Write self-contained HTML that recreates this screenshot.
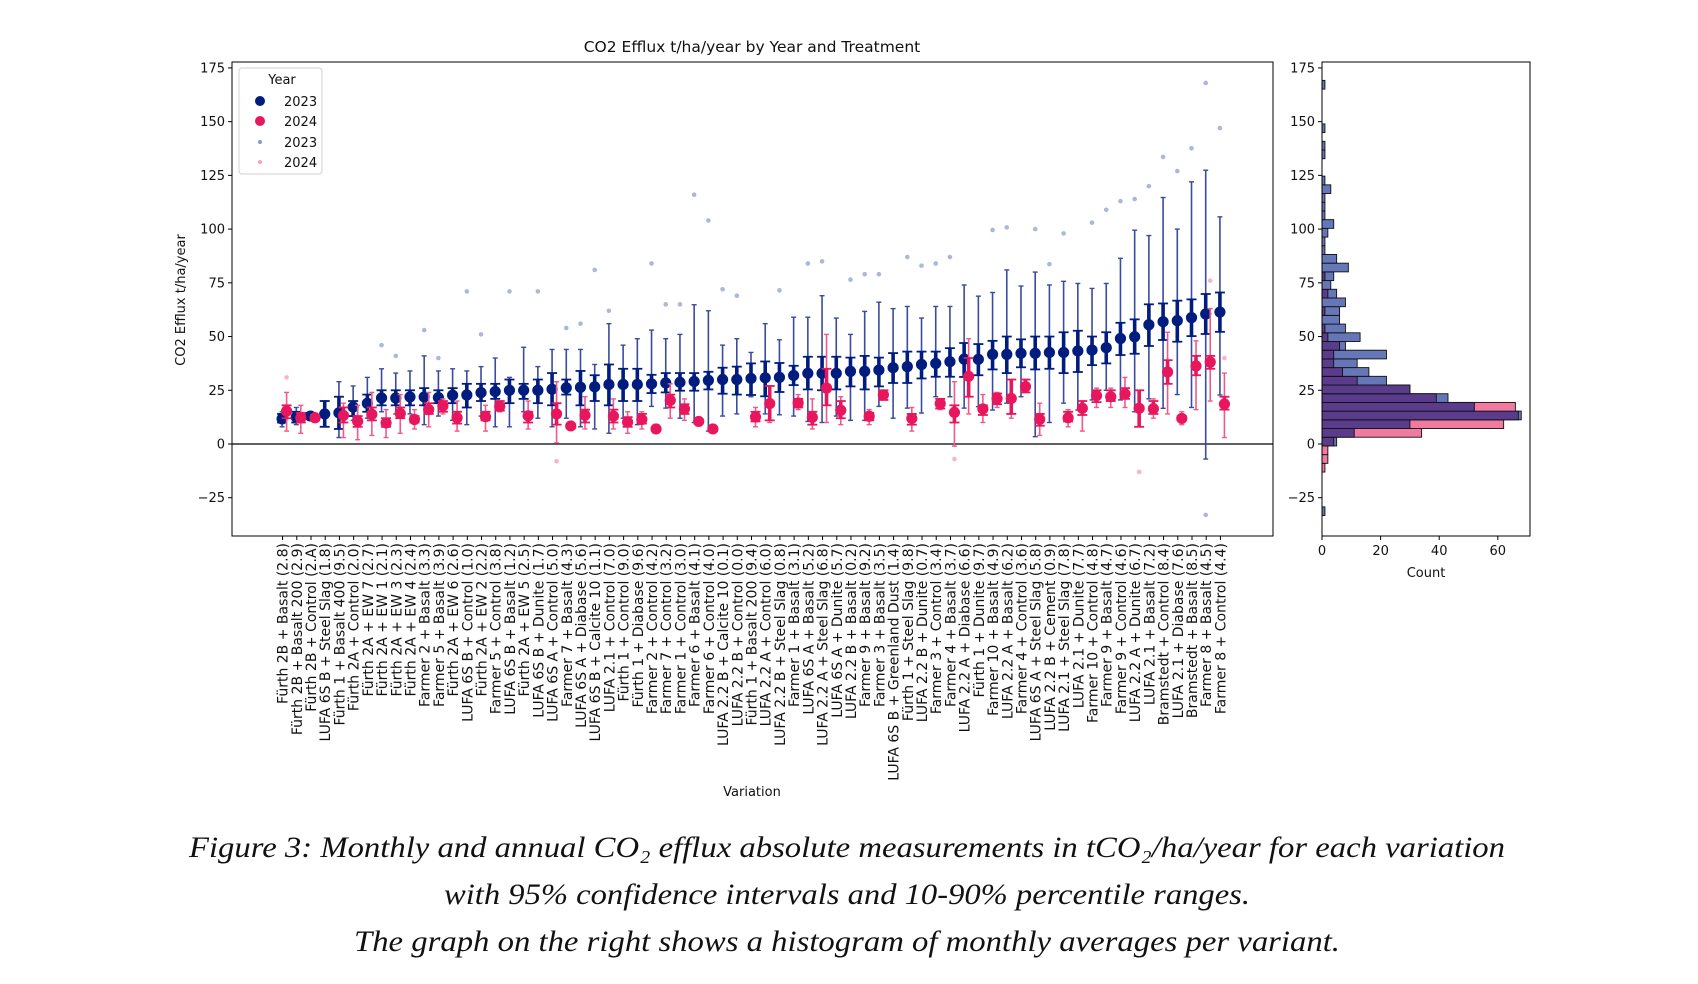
<!DOCTYPE html>
<html><head><meta charset="utf-8"><title>CO2 Efflux chart</title>
<style>
html,body{margin:0;padding:0;background:#fff;}
svg{display:block;}
.tk{font-family:"DejaVu Sans","Liberation Sans",sans-serif;font-size:13px;fill:#111;}
.cat{font-family:"DejaVu Sans","Liberation Sans",sans-serif;font-size:14px;fill:#111;}
.cap{font-family:"Liberation Serif",serif;font-style:italic;font-size:30px;fill:#111;}
</style></head>
<body>
<svg id="fig" width="1698" height="984" viewBox="0 0 1698 984" xmlns="http://www.w3.org/2000/svg">
<rect x="0" y="0" width="1698" height="984" fill="#fff"/>
<text class="tk" x="752" y="52" text-anchor="middle" style="font-size:15.5px">CO2 Efflux t/ha/year by Year and Treatment</text>
<text class="tk" transform="translate(185,300) rotate(-90)" text-anchor="middle">CO2 Efflux t/ha/year</text>
<text class="tk" x="752" y="796" text-anchor="middle">Variation</text>
<text class="tk" x="1426" y="577" text-anchor="middle">Count</text>
<g id="main"></g>
<g id="hist"></g>
<g>
<rect x="239" y="68" width="83" height="106" rx="3" fill="#fff" fill-opacity="0.85" stroke="#d0d0d0"/>
<text class="tk" x="282" y="84" text-anchor="middle">Year</text>
<circle cx="260" cy="101" r="5" fill="#001c7f"/>
<text class="tk" x="284" y="106">2023</text>
<circle cx="260" cy="121" r="5" fill="#e8175d"/>
<text class="tk" x="284" y="126">2024</text>
<circle cx="260" cy="142" r="2" fill="#8a97cc"/>
<text class="tk" x="284" y="147">2023</text>
<circle cx="260" cy="162" r="2" fill="#f5a3bd"/>
<text class="tk" x="284" y="167">2024</text>
</g>
<text class="cap" x="847" y="857" text-anchor="middle" textLength="1316" lengthAdjust="spacingAndGlyphs">Figure 3: Monthly and annual CO₂ efflux absolute measurements in tCO₂/ha/year for each variation</text>
<text class="cap" x="847" y="904" text-anchor="middle" textLength="806" lengthAdjust="spacingAndGlyphs">with 95% confidence intervals and 10-90% percentile ranges.</text>
<text class="cap" x="847" y="951" text-anchor="middle" textLength="986" lengthAdjust="spacingAndGlyphs">The graph on the right shows a histogram of monthly averages per variant.</text>
</svg>
<script>
const categories = ["Fürth 2B + Basalt (2.8)","Fürth 2B + Basalt 200 (2.9)","Fürth 2B + Control (2.A)","LUFA 6S B + Steel Slag (1.8)","Fürth 1 + Basalt 400 (9.5)","Fürth 2A + Control (2.0)","Fürth 2A + EW 7 (2.7)","Fürth 2A + EW 1 (2.1)","Fürth 2A + EW 3 (2.3)","Fürth 2A + EW 4 (2.4)","Farmer 2 + Basalt (3.3)","Farmer 5 + Basalt (3.9)","Fürth 2A + EW 6 (2.6)","LUFA 6S B + Control (1.0)","Fürth 2A + EW 2 (2.2)","Farmer 5 + Control (3.8)","LUFA 6S B + Basalt (1.2)","Fürth 2A + EW 5 (2.5)","LUFA 6S B + Dunite (1.7)","LUFA 6S A + Control (5.0)","Farmer 7 + Basalt (4.3)","LUFA 6S A + Diabase (5.6)","LUFA 6S B + Calcite 10 (1.1)","LUFA 2.1 + Control (7.0)","Fürth 1 + Control (9.0)","Fürth 1 + Diabase (9.6)","Farmer 2 + Control (4.2)","Farmer 7 + Control (3.2)","Farmer 1 + Control (3.0)","Farmer 6 + Basalt (4.1)","Farmer 6 + Control (4.0)","LUFA 2.2 B + Calcite 10 (0.1)","LUFA 2.2 B + Control (0.0)","Fürth 1 + Basalt 200 (9.4)","LUFA 2.2 A + Control (6.0)","LUFA 2.2 B + Steel Slag (0.8)","Farmer 1 + Basalt (3.1)","LUFA 6S A + Basalt (5.2)","LUFA 2.2 A + Steel Slag (6.8)","LUFA 6S A + Dunite (5.7)","LUFA 2.2 B + Basalt (0.2)","Farmer 9 + Basalt (9.2)","Farmer 3 + Basalt (3.5)","LUFA 6S B + Greenland Dust (1.4)","Fürth 1 + Steel Slag (9.8)","LUFA 2.2 B + Dunite (0.7)","Farmer 3 + Control (3.4)","Farmer 4 + Basalt (3.7)","LUFA 2.2 A + Diabase (6.6)","Fürth 1 + Dunite (9.7)","Farmer 10 + Basalt (4.9)","LUFA 2.2 A + Basalt (6.2)","Farmer 4 + Control (3.6)","LUFA 6S A + Steel Slag (5.8)","LUFA 2.2 B + Cement (0.9)","LUFA 2.1 + Steel Slag (7.8)","LUFA 2.1 + Dunite (7.7)","Farmer 10 + Control (4.8)","Farmer 9 + Basalt (4.7)","Farmer 9 + Control (4.6)","LUFA 2.2 A + Dunite (6.7)","LUFA 2.1 + Basalt (7.2)","Bramstedt + Control (8.4)","LUFA 2.1 + Diabase (7.6)","Bramstedt + Basalt (8.5)","Farmer 8 + Basalt (4.5)","Farmer 8 + Control (4.4)"];
const blueMean = [11.7,12.5,13,14,14.5,17.2,18.9,21.4,21.4,21.9, 21.9,21.6,22.7,22.8,23.9,24.4,25,25,25,25.5, 26.1,26.4,26.6,27.7,27.7,27.7,28,28.4,28.7,29.1, 29.6,30,30,30.5,30.8,31,31.9,32.9,32.9,32.9, 33.8,33.8,34.4,35.5,36,37,37.5,38.3,39.5,39.4, 41.7,41.7,42.2,42.2,42.6,42.6,43.3,43.7,44.8,49.1, 49.9,55.5,56.9,57.4,58.8,60.5,61.4];
const blueCiLo = [10,10,11.5,8,7,13,15,18,18,18, 18,19,19,17,20,21,19,21,19,18, 23,18,20,18,20,20,23.7,24,24.8,24.8, 25.4,23.4,23,22.8,22.2,24.2,27.4,25.4,25,25.4, 26.8,25.4,26.8,28.4,28.4,30.5,31.3,31.3,31.2,32, 34.7,33,35.7,34.7,35,33,33.5,36.7,37.5,41.4, 42,45.6,48.4,47.6,50.2,51.2,52.2];
const blueCiHi = [14,15,14.5,20,22,20,23,25,25,25, 26,25,26,28,28,28,30,28,30,33, 30,34,32,37,35,35,32.2,33,33,33, 33.6,35.5,36,37.5,38.4,37.7,36.4,40.6,40.6,40.6, 40.2,41,40.2,42.3,43,43,43,44.6,47,46.5, 48,50,48.7,50,50,52,52.7,50,52,56.4, 58,65,65.4,66.7,67.3,69.8,70.5];
const blueP10 = [8,9,11,8,3,11,12,15,14,14, 9,13,11,9,13,8,8,15,12,8, 12,8,7,5,12,9,17.5,16.7,12,10, 6,13,14,22,14,13.6,13,10.5,10,13, 11,11,17.5,12,16.7,14.4,22,22,16.7,17.4, 15.8,19,22,3.4,10,19,15.8,20.5,25,20.5, 15,21,16.6,23,17,-7,22.8];
const blueP90 = [15,17,15,20,29,27,31,35,33,34, 41,34,35,34,36,40,31,45,36,44, 44,44,37,56,46,49,53,49,51,64.8, 62,46,49,42.6,56,48.5,59,59,69,58.6, 51,61.7,66,63,64,58.6,64,64,74,68.8, 70.5,81,73.5,80,74,75.7,74.7,72.4,74.7,86.4, 99.5,97,114.7,100,122,127.4,105.7];
const pinkMean = [15.3,12.2,12.2,null,13.3,10.6,13.8,9.8,14.2,11.4, 16,17.7,12.2,null,12.7,17.5,null,13.1,null,14, 8.4,13.4,null,13,10.2,11.4,7,20.3,16.3,10.5, 7,null,null,12.6,18.8,null,19.1,12.4,26,15.7, null,12.9,22.9,null,11.9,null,18.8,14.7,31.5,16.3, 21.1,21.2,26.7,11.5,null,12.2,16.6,22.5,22,23.3, 16.6,16.4,33.5,11.9,36.3,38.1,18.6];
const pinkCiLo = [12,10,11,null,10,8,11,8,12,10, 14,15,9.5,null,11,15.5,null,10,null,9, 7.5,10,null,10,8,9.5,6.5,17,14,9.5, 6,null,null,10.5,11,null,17,9,18,12, null,11,20.5,null,9,null,16.5,10,22,13.5, 18.5,14,24,8.5,null,10.5,13.5,19.5,20,21, 8,14,28,11,32,35,16];
const pinkCiHi = [18,14.5,13.5,null,17,13,17,12,17,13, 19,20,15,null,15,20,null,15,null,19, 9,16,null,16,12.5,14,7.5,23,18.5,11.5, 8,null,null,15,27,null,21,15,35,20, null,14.5,25,null,14,null,21,18,40,18, 23.5,30,30,14,null,15,20,25,25,26, 25,20,39,13,41,41,22];
const pinkP10 = [6,5,11,null,3,2,4,3,5,7, 8,14,6,null,6,15,null,7,null,0.5, 7.5,7,null,7,5,7,6.5,12,11,9.5, 6,null,null,8,10,null,16,7,10,9, null,9,20.5,null,6,null,16,-1,14,10, 17,12,24,4,null,8,6,17,17,17, 8,12,14,9,16,20,3];
const pinkP90 = [24,18,13.5,null,19,18,24,16,23,16, 24,21,20,null,18,20,null,20,null,29, 9,22,null,21,15,15,7.5,28,21,11.5, 8,null,null,17,27,null,23,21,51,22, null,16,25,null,17,null,21,29,49,23, 24,30,30,19,null,16,20,26,26,31, 25,21,52,15,48,63,33];
const blueOutCat = [8,9,11,12,14,15,17,19,21,22,23,24,27,28,29,30,31,32,33,36,38,39,41,42,43,45,46,47,48,51,52,54,55,56,58,59,60,61,62,63,64,65,66,67,66];
const blueOutVal = [46,41,53,40,71,51,71,71,54,56,81,62,84,65,65,116,104,72,69,71.5,84,85,76.5,79,79,87,83,84,87,99.6,100.8,100,83.7,98,103,109,113,114,120,133.6,127,137.6,168,147,-33];
const pinkOutCat = [1,20,48,61,67,66];
const pinkOutVal = [31,-8,-7,-13,40,76];
const histBinStart = -33.3;
const histBinWidth = 4.05;
const histBlue = [1,0,0,0,0,0,0,0,5,11,30,68,52,43,30,22,16,12,22,8,13,8,6,6,8,5,3,4,9,5,1,1,2,4,1,1,1,3,1,0,0,1,1,0,1,0,0,0,0,1];
const histPink = [0,0,0,0,0,1,2,2,4,34,62,67,66,39,30,12,7,4,4,6,2,1,0,1,0,2,0,1,0,0,0,0,0,0,0,0,0,0,0,0,0,0,0,0,0,0,0,0,0,0];
const yTicks = [-25,0,25,50,75,100,125,150,175];
const countTicks = [0,20,40,60];

const NS = "http://www.w3.org/2000/svg";
const PL = 232, PR = 1273, PT = 62, PB = 536;
const HL = 1322, HR = 1530;
function y(v){ return 444 - v * 2.149; }
function x(i){ return PL + (i + 3.56) * (PR - PL) / (66 + 3.56 + 3.7); }
function hx(c){ return HL + c * 2.93; }
function el(tag, attrs, parent){ const e = document.createElementNS(NS, tag); for (const k in attrs) e.setAttribute(k, attrs[k]); parent.appendChild(e); return e; }

const main = document.getElementById('main');
const hist = document.getElementById('hist');

let zl = el('line', {x1:PL, x2:PR, y1:y(0), y2:y(0), stroke:'#000', 'stroke-width':1.2}, main);



yTicks.forEach(t => {
  [[PL, main, 'y-tick-'], [HL, hist, 'hist-y-tick-']].forEach(([ax, g, nm]) => {
    const l = el('line', {x1:ax-4, x2:ax, y1:y(t), y2:y(t), stroke:'#000', 'stroke-width':1}, g);
    
    
    const tx = el('text', {x:ax-7, y:y(t)+4.5, 'text-anchor':'end', class:'tk'}, g);
    tx.textContent = t < 0 ? '\u2212' + Math.abs(t) : String(t);
    
    
  });
});

blueOutCat.forEach((c, k) => {
  const d = el('circle', {cx:x(c-1)-0.5, cy:y(blueOutVal[k]), r:2.3, fill:'#8a97cc', 'fill-opacity':0.7}, main);
  
  
});
pinkOutCat.forEach((c, k) => {
  const d = el('circle', {cx:x(c-1)+4, cy:y(pinkOutVal[k]), r:2.3, fill:'#f5a3bd', 'fill-opacity':0.8}, main);
  
  
});

function drawSeries(mean, ciLo, ciHi, pLo, pHi, off, col, thin, name){
  mean.forEach((m, i) => {
    if (m === null) return;
    const cx = x(i) + off;
    const g = el('g', {}, main);
    
    
    el('line', {x1:cx, x2:cx, y1:y(pLo[i]), y2:y(pHi[i]), stroke:thin, 'stroke-width':1.6}, g);
    el('line', {x1:cx-2.5, x2:cx+2.5, y1:y(pLo[i]), y2:y(pLo[i]), stroke:thin, 'stroke-width':1.4}, g);
    el('line', {x1:cx-2.5, x2:cx+2.5, y1:y(pHi[i]), y2:y(pHi[i]), stroke:thin, 'stroke-width':1.4}, g);
    el('line', {x1:cx, x2:cx, y1:y(ciLo[i]), y2:y(ciHi[i]), stroke:col, 'stroke-width':3.6}, g);
    el('line', {x1:cx-5, x2:cx+5, y1:y(ciLo[i]), y2:y(ciLo[i]), stroke:col, 'stroke-width':1.8}, g);
    el('line', {x1:cx-5, x2:cx+5, y1:y(ciHi[i]), y2:y(ciHi[i]), stroke:col, 'stroke-width':1.8}, g);
    el('circle', {cx:cx, cy:y(m), r:5.6, fill:col}, g);
  });
}
drawSeries(blueMean, blueCiLo, blueCiHi, blueP10, blueP90, -0.5, '#001c7f', '#3a4c9e', 'mean-2023');
drawSeries(pinkMean, pinkCiLo, pinkCiHi, pinkP10, pinkP90, 4, '#e8175d', '#ef5a8a', 'mean-2024');

categories.forEach((c, i) => {
  const l = el('line', {x1:x(i), x2:x(i), y1:PB, y2:PB+4, stroke:'#000', 'stroke-width':1}, main);
  
  
  const t = el('text', {class:'cat', 'text-anchor':'end', transform:'translate(' + (x(i)+5) + ',' + (PB+7) + ') rotate(-90)'}, main);
  t.textContent = c;
  
  
});

let fr = el('rect', {x:PL, y:PT, width:PR-PL, height:PB-PT, fill:'none', stroke:'#000', 'stroke-width':1}, main);



histBlue.forEach((b, k) => {
  const p = histPink[k];
  const lo = histBinStart + k * histBinWidth, hi = lo + histBinWidth;
  const yt = y(hi), h = y(lo) - y(hi);
  const mx = Math.max(b, p), mn = Math.min(b, p);
  if (mx === 0) return;
  const top = el('rect', {x:HL, y:yt, width:hx(mx)-HL, height:h, fill: b >= p ? '#6577b6' : '#f07aa0', stroke:'#111', 'stroke-width':0.9}, hist);
  
  
  if (mn > 0) {
    const ov = el('rect', {x:HL, y:yt, width:hx(mn)-HL, height:h, fill:'#5a3b8c', stroke:'#111', 'stroke-width':0.9}, hist);
    
    
  }
});
countTicks.forEach(c => {
  const l = el('line', {x1:hx(c), x2:hx(c), y1:PB, y2:PB+4, stroke:'#000', 'stroke-width':1}, hist);
  
  
  const t = el('text', {x:hx(c), y:PB+19, 'text-anchor':'middle', class:'tk'}, hist);
  t.textContent = String(c);
  
  
});
let hf = el('rect', {x:HL, y:PT, width:HR-HL, height:PB-PT, fill:'none', stroke:'#000', 'stroke-width':1}, hist);


</script>
</body></html>
